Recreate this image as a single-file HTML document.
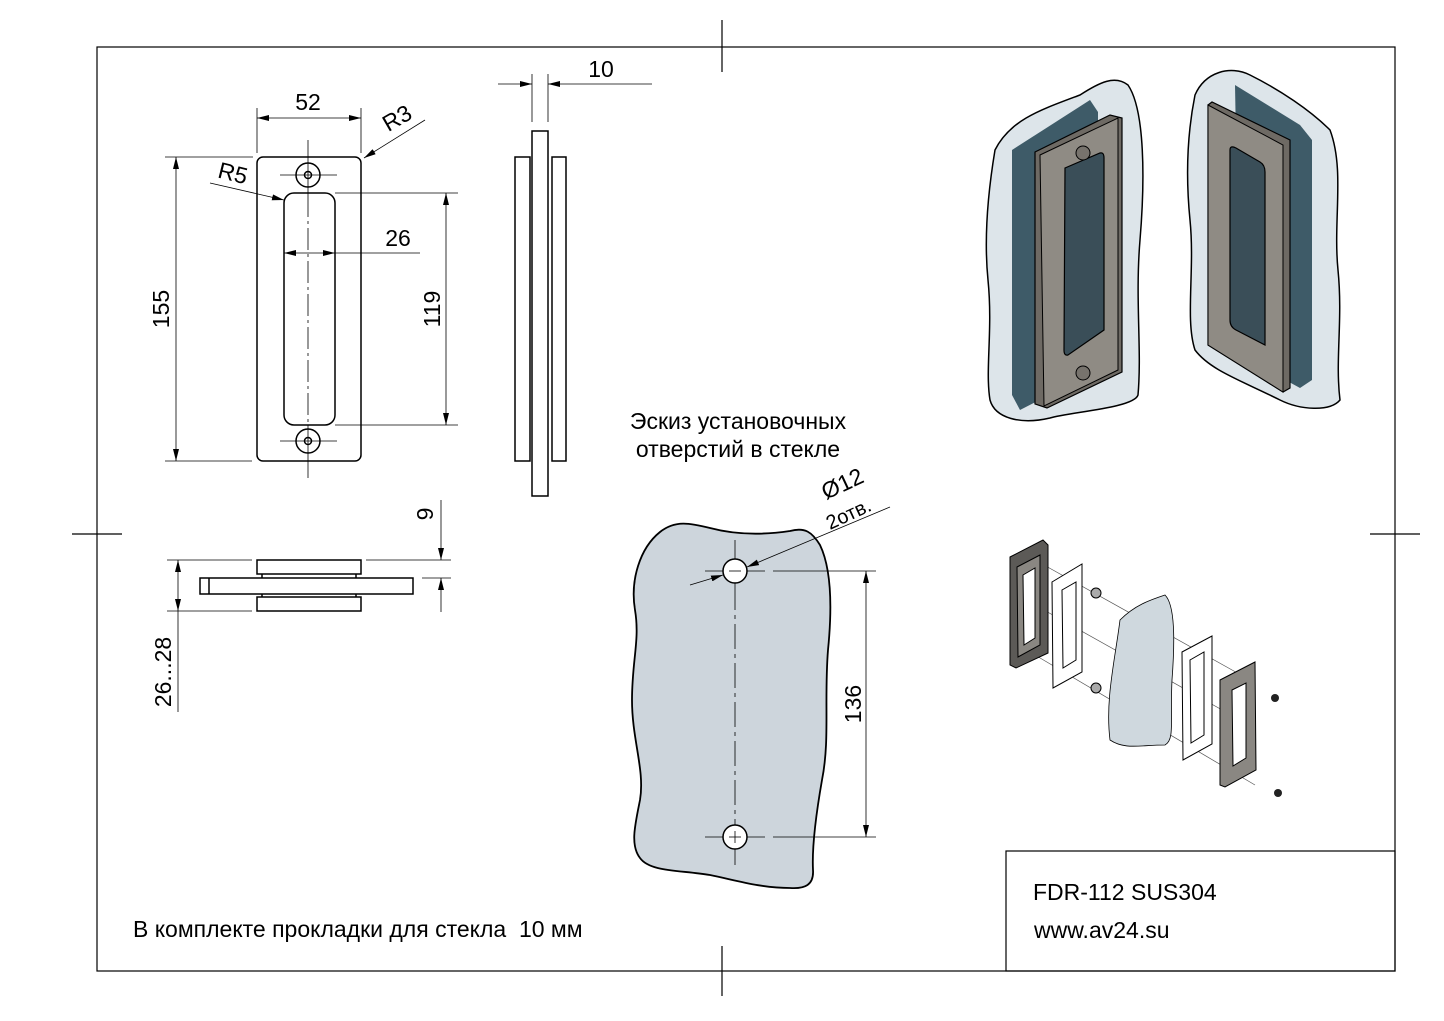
<!DOCTYPE html>
<html><head><meta charset="utf-8"><style>
html,body{margin:0;padding:0;background:#fff}
svg{display:block}
text{font-family:"Liberation Sans","Noto Sans CJK SC",sans-serif;fill:#000}
</style></head><body>
<svg width="1444" height="1021" viewBox="0 0 1444 1021" xmlns="http://www.w3.org/2000/svg">
<defs>
<marker id="a" viewBox="0 0 12 6" refX="12" refY="3" markerWidth="12" markerHeight="6" orient="auto-start-reverse" markerUnits="userSpaceOnUse"><path d="M0,0 L12,3 L0,6z" fill="#000"/></marker>
</defs>
<rect width="1444" height="1021" fill="#fff"/>
<g stroke="#000" stroke-width="1.2" fill="none">
<rect x="97" y="47" width="1298" height="924"/>
<line x1="722" y1="20" x2="722" y2="72"/><line x1="722" y1="946" x2="722" y2="996"/>
<line x1="72" y1="534" x2="122" y2="534"/><line x1="1370" y1="534" x2="1420" y2="534"/>
<rect x="1006" y="851" width="389" height="120"/>
</g>
<text x="1033" y="900" font-size="23">FDR-112 SUS304</text>
<text x="1034" y="938" font-size="23">www.av24.su</text>
<text x="133" y="937" font-size="23">В комплекте прокладки для стекла &#160;10 мм</text>

<!-- front view -->
<g stroke="#000" stroke-width="1.5" fill="none">
<rect x="257" y="157" width="104" height="304" rx="6"/>
<rect x="284" y="193" width="51" height="232" rx="10"/>
<circle cx="308" cy="175" r="12"/><circle cx="308" cy="175" r="3.5"/>
<circle cx="308" cy="441" r="12"/><circle cx="308" cy="441" r="3.5"/>
</g>
<g stroke="#000" stroke-width="0.8" fill="none">
<line x1="308" y1="140" x2="308" y2="195"/>
<line x1="308" y1="195" x2="308" y2="425" stroke-dasharray="22,4,3,4"/>
<line x1="308" y1="425" x2="308" y2="478"/>
<line x1="280" y1="175" x2="337" y2="175"/><line x1="280" y1="441" x2="337" y2="441"/>
<line x1="257" y1="108" x2="257" y2="153"/><line x1="361" y1="108" x2="361" y2="153"/>
<line x1="257" y1="118" x2="361" y2="118" marker-start="url(#a)" marker-end="url(#a)"/>
<line x1="425" y1="120" x2="364" y2="158" marker-end="url(#a)"/>
<line x1="210" y1="183" x2="284" y2="200" marker-end="url(#a)"/>
<line x1="284" y1="253" x2="335" y2="253" marker-start="url(#a)" marker-end="url(#a)"/>
<line x1="335" y1="253" x2="420" y2="253"/>
<line x1="335" y1="193" x2="458" y2="193"/><line x1="335" y1="425" x2="458" y2="425"/>
<line x1="446" y1="193" x2="446" y2="425" marker-start="url(#a)" marker-end="url(#a)"/>
<line x1="165" y1="157" x2="253" y2="157"/><line x1="165" y1="461" x2="252" y2="461"/>
<line x1="176" y1="157" x2="176" y2="461" marker-start="url(#a)" marker-end="url(#a)"/>
</g>
<text x="308" y="110" font-size="23" text-anchor="middle">52</text>
<text x="397" y="126" font-size="23" text-anchor="middle" transform="rotate(-30 397 118)">R3</text>
<text x="233" y="181" font-size="23" text-anchor="middle" transform="rotate(14 233 173)">R5</text>
<text x="398" y="246" font-size="23" text-anchor="middle">26</text>
<text x="0" y="0" font-size="23" text-anchor="middle" transform="translate(440,309) rotate(-90)">119</text>
<text x="0" y="0" font-size="23" text-anchor="middle" transform="translate(169,309) rotate(-90)">155</text>

<!-- side view -->
<g stroke="#000" stroke-width="1.5" fill="none">
<rect x="532" y="131" width="16" height="365"/>
<rect x="515" y="157" width="15" height="304"/>
<rect x="552" y="157" width="14" height="304"/>
</g>
<g stroke="#000" stroke-width="0.8">
<line x1="532" y1="74" x2="532" y2="122"/><line x1="548" y1="74" x2="548" y2="122"/>
<line x1="498" y1="84" x2="532" y2="84" marker-end="url(#a)"/>
<line x1="652" y1="84" x2="548" y2="84" marker-end="url(#a)"/>
</g>
<text x="601" y="77" font-size="23" text-anchor="middle">10</text>

<!-- bottom view -->
<g stroke="#000" stroke-width="1.5" fill="none">
<rect x="257" y="560" width="104" height="14"/>
<rect x="257" y="597" width="104" height="14"/>
<rect x="200" y="578" width="213" height="16"/>
<line x1="209" y1="578" x2="209" y2="594"/>
<line x1="262" y1="574" x2="262" y2="578"/><line x1="356" y1="574" x2="356" y2="578"/>
<line x1="262" y1="594" x2="262" y2="597"/><line x1="356" y1="594" x2="356" y2="597"/>
</g>
<g stroke="#000" stroke-width="0.8">
<line x1="167" y1="560" x2="252" y2="560"/><line x1="167" y1="611" x2="252" y2="611"/>
<line x1="178" y1="560" x2="178" y2="611" marker-start="url(#a)" marker-end="url(#a)"/>
<line x1="178" y1="611" x2="178" y2="712"/>
<line x1="366" y1="560" x2="451" y2="560"/><line x1="422" y1="578" x2="451" y2="578"/>
<line x1="441" y1="500" x2="441" y2="560" marker-end="url(#a)"/>
<line x1="441" y1="612" x2="441" y2="578" marker-end="url(#a)"/>
</g>
<text x="0" y="0" font-size="23" text-anchor="middle" transform="translate(171,672) rotate(-90)">26...28</text>
<text x="0" y="0" font-size="23" text-anchor="middle" transform="translate(433,514) rotate(-90)">9</text>

<!-- glass sketch -->
<text x="738" y="429" font-size="23" text-anchor="middle">Эскиз установочных</text>
<text x="738" y="457" font-size="23" text-anchor="middle">отверстий в стекле</text>
<path d="M660,532 C675,520 690,523 710,528 C740,536 770,534 790,531 C805,527 812,532 820,545 C832,570 832,610 828,650 C824,700 830,740 822,780 C815,820 812,850 813,870 C814,885 805,889 790,888 C760,888 735,880 710,875 C680,870 650,872 640,858 C630,845 635,825 640,800 C645,770 632,740 632,700 C632,660 640,640 635,610 C630,580 640,548 660,532 Z" fill="#cdd5dc" stroke="#000" stroke-width="1.8"/>
<g stroke="#000" stroke-width="0.8" fill="none">
<line x1="735" y1="540" x2="735" y2="585"/>
<line x1="735" y1="585" x2="735" y2="825" stroke-dasharray="25,5,4,5"/>
<line x1="735" y1="825" x2="735" y2="865"/>
<line x1="705" y1="571" x2="765" y2="571"/><line x1="705" y1="837" x2="765" y2="837"/>
<line x1="773" y1="571" x2="876" y2="571"/><line x1="773" y1="837" x2="876" y2="837"/>
<line x1="866" y1="571" x2="866" y2="837" marker-start="url(#a)" marker-end="url(#a)"/>
<line x1="690" y1="585" x2="723" y2="575" marker-end="url(#a)"/>
<line x1="890" y1="507" x2="747" y2="567" marker-end="url(#a)"/>
</g>
<circle cx="735" cy="571" r="12" fill="#fff" stroke="#000" stroke-width="1.5"/>
<circle cx="735" cy="837" r="12" fill="#fff" stroke="#000" stroke-width="1.5"/>
<g stroke="#000" stroke-width="0.8"><line x1="729" y1="837" x2="741" y2="837"/><line x1="735" y1="831" x2="735" y2="843"/><line x1="729" y1="571" x2="741" y2="571"/></g>
<text x="0" y="0" font-size="23" text-anchor="middle" transform="translate(861,704) rotate(-90)">136</text>
<text x="0" y="0" font-size="23" transform="translate(826,500) rotate(-25)">Ø12</text>
<text x="0" y="0" font-size="20" transform="translate(830,530) rotate(-25)">2отв.</text>

<!-- 3D left -->
<path d="M995,150 C1010,120 1040,110 1080,95 C1100,82 1115,75 1128,85 C1145,110 1145,180 1140,240 C1135,300 1142,350 1138,395 C1134,408 1070,412 1050,418 C1020,425 995,418 990,400 C985,370 993,330 988,280 C983,230 990,180 995,150Z" fill="#dde5ea" stroke="#000" stroke-width="1.5"/>
<path d="M1012,150 L1090,100 L1098,112 L1098,370 L1020,410 L1012,395Z" fill="#3e5b68"/>
<path d="M1035,152 L1110,115 L1122,118 L1122,372 L1047,408 L1035,404Z" fill="#6e6a64" stroke="#000" stroke-width="1.2"/>
<path d="M1040,155 L1118,118 L1118,370 L1044,406Z" fill="#8f8b84" stroke="#000" stroke-width="1"/>
<path d="M1065,168 L1100,153 Q1104,152 1104,158 L1104,330 L1068,355 Q1064,356 1064,350 Z" fill="#3a4e58" stroke="#000" stroke-width="1.2"/>
<circle cx="1083" cy="153" r="7" fill="#77736d" stroke="#000"/><circle cx="1083" cy="373" r="7" fill="#77736d" stroke="#000"/>
<!-- 3D right -->
<path d="M1195,95 C1205,72 1230,65 1250,75 C1280,90 1310,110 1330,130 C1345,170 1333,220 1338,270 C1343,320 1335,360 1340,400 C1330,412 1300,410 1280,400 C1240,380 1210,370 1195,350 C1185,320 1195,270 1190,220 C1185,170 1188,130 1195,95Z" fill="#dde5ea" stroke="#000" stroke-width="1.5"/>
<path d="M1235,85 L1300,125 L1312,140 L1312,380 L1300,388 L1240,355Z" fill="#3e5b68"/>
<path d="M1208,105 L1212,102 L1290,140 L1290,388 L1283,392 L1208,345Z" fill="#6e6a64" stroke="#000" stroke-width="1.2"/>
<path d="M1208,105 L1283,145 L1283,392 L1208,345Z" fill="#8f8b84" stroke="#000" stroke-width="1"/>
<path d="M1230,150 Q1230,145 1236,148 L1260,162 Q1265,165 1265,172 L1265,345 L1236,330 Q1230,327 1230,320Z" fill="#3a4e58" stroke="#000" stroke-width="1.2"/>

<!-- exploded -->
<g stroke="#555" stroke-width="0.7" fill="none">
<line x1="1035" y1="560" x2="1250" y2="680"/><line x1="1035" y1="655" x2="1255" y2="785"/>
<line x1="1035" y1="605" x2="1240" y2="720"/>
</g>
<path d="M1010,557 L1043,540 L1048,545 L1048,653 L1016,668 L1010,665Z" fill="#5c5a57" stroke="#000"/>
<path d="M1017,567 L1040,555 L1040,645 L1018,657Z" fill="#8a8782" stroke="#000"/>
<path d="M1023,575 L1035,568 L1035,638 L1024,645Z" fill="#fff" stroke="#000"/>
<path d="M1052,582 L1082,564 L1082,672 L1053,688Z" fill="#fff" stroke="#000"/>
<path d="M1062,590 L1076,582 L1076,660 L1063,668Z" fill="none" stroke="#000"/>
<circle cx="1096" cy="593" r="5" fill="#aaa" stroke="#000"/><circle cx="1096" cy="688" r="5" fill="#aaa" stroke="#000"/>
<path d="M1120,620 C1135,605 1150,600 1165,595 C1175,605 1175,640 1172,680 C1170,720 1175,740 1165,745 C1140,745 1125,750 1110,740 C1105,700 1115,660 1120,620Z" fill="#cfd8de" stroke="#000" stroke-width="0.8"/>
<path d="M1182,652 L1212,636 L1212,744 L1183,760Z" fill="#fff" stroke="#000"/>
<path d="M1190,660 L1204,652 L1204,735 L1191,743Z" fill="none" stroke="#000"/>
<path d="M1220,680 L1255,662 L1256,770 L1225,787 L1220,785Z" fill="#8a8782" stroke="#000"/>
<path d="M1232,690 L1246,683 L1246,758 L1233,766Z" fill="#fff" stroke="#000"/>
<circle cx="1275" cy="698" r="4" fill="#222"/><circle cx="1278" cy="793" r="4" fill="#222"/>
</svg>
</body></html>
